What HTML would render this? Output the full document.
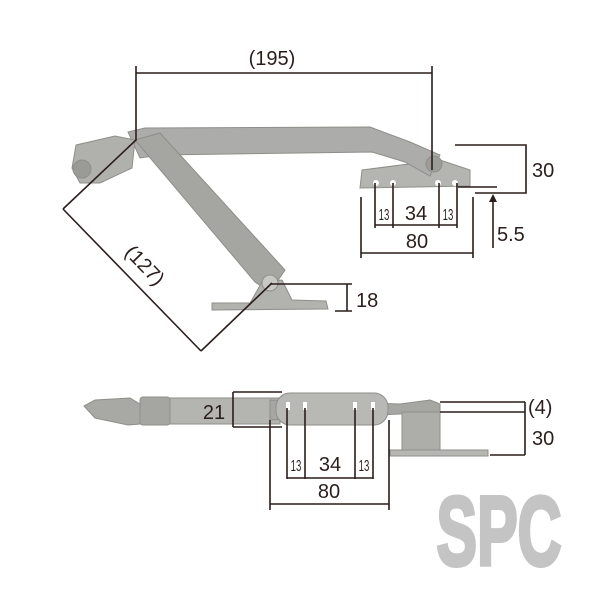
<!DOCTYPE html>
<html><head><meta charset="utf-8"><style>
html,body{margin:0;padding:0;background:#fff;}
svg{display:block;}
text{font-family:"Liberation Sans",sans-serif;fill:#2a1e1c;}
</style></head><body>
<svg width="600" height="600" viewBox="0 0 600 600" xmlns="http://www.w3.org/2000/svg">
<rect width="600" height="600" fill="#fff"/>
<g fill="#a9a9a5" stroke="#8e8e8a" stroke-width="1">
  <path d="M362,170 L440,160 L470,170 L470,186 L360,188 Z" fill="#b4b4b0"/>
  <path d="M128,132 L145,128 L370,127 L410,142 L440,155 L430,176 L405,162 L372,152 L160,155 L140,158 Z" fill="#acacaa"/>
  <path d="M135,140 L160,133 L285,270 L270,292 L255,282 Z" fill="#a5a5a2"/>
  <path d="M76,145 L115,136 L135,140 L132,168 L100,183 L80,183 L72,168 Z" fill="#b0b0ac"/>
  <circle cx="82" cy="169" r="9" fill="#9a9a96"/>
  <path d="M212,303 L250,303 L262,282 L282,280 L292,300 L326,301 L328,309 L212,310 Z" fill="#b2b2ae"/>
  <circle cx="270" cy="283" r="8" fill="#c8c8c4"/>
  <circle cx="434" cy="164" r="8" fill="#9c9c98"/>
</g>
<g fill="#fff"><circle cx="376" cy="183" r="3"/><circle cx="393" cy="183" r="3"/><circle cx="438" cy="183" r="3"/><circle cx="455" cy="183" r="3"/></g>
<g stroke="#8e8e8a" stroke-width="1">
  <path d="M84,406 L95,400 L130,398 L140,404 L140,424 L128,425 L95,418 Z" fill="#a8a8a4"/>
  <rect x="140" y="397" width="30" height="28" rx="3" fill="#a5a5a1"/>
  <rect x="170" y="398" width="110" height="26" fill="#b4b4b0"/>
  <path d="M270,400 L400,404 L430,400 L440,404 L440,412 L400,414 L270,420 Z" fill="#a6a6a2"/>
  <rect x="402" y="412" width="38" height="38" fill="#adadA9"/>
  <rect x="390" y="450" width="98" height="6" fill="#b6b6b2"/>
  <rect x="276" y="393" width="112" height="32" rx="14" fill="#b8b8b4"/>
</g>
<g fill="#fff"><rect x="286" y="402" width="4" height="8"/><rect x="303" y="402" width="4" height="8"/><rect x="353" y="402" width="4" height="8"/><rect x="371" y="402" width="4" height="8"/></g>
<g stroke="#2a1e1c" stroke-width="1.6" fill="none">
  <path d="M136,66 V140 L63,209"/>
  <path d="M432,66 V170"/>
  <path d="M136,73 H432"/>
  <path d="M63,209 L201,351"/>
  <path d="M201,351 L272,283"/>
  <path d="M270,284 H352 M335,311 H352 M347,284 V311"/>
  <path d="M455,145 H526 V193 H475"/>
  <path d="M458,187 H497 M493,197 V248"/>
  <path d="M375,183 V228 M393,183 V228 M439,183 V228 M457,183 V228 M375,225 H457"/>
  <path d="M361,197 V258 M473,197 V258 M361,253 H473"/>
  <path d="M233,392 H282 M233,427 H282 M233,392 V427"/>
  <path d="M440,402 H525 M440,412 H525 M525,402 V455 M490,455 H525"/>
  <path d="M287,408 V479 M305,408 V479 M355,408 V479 M373,408 V479 M287,478 H373"/>
  <path d="M270,420 V510 M389,420 V510 M270,504 H389"/>
</g>
<path d="M493,194 L489,202 L497,202 Z" fill="#2a1e1c"/>
<g font-size="20">
  <text x="272" y="65" text-anchor="middle">(195)</text>
  <text x="356" y="307">18</text>
  <text x="532" y="177">30</text>
  <text x="497" y="241">5.5</text>
  <text x="416" y="220" text-anchor="middle">34</text>
  <text x="417" y="248" text-anchor="middle">80</text>
  <text x="214" y="419" text-anchor="middle">21</text>
  <text x="528" y="414">(4)</text>
  <text x="532" y="445">30</text>
  <text x="330" y="471" text-anchor="middle">34</text>
  <text x="329" y="498" text-anchor="middle">80</text>
  <text transform="translate(140,270) rotate(46)" text-anchor="middle">(127)</text>
</g>
<g font-size="16">
  <text transform="translate(384,220) scale(0.6,1)" text-anchor="middle">13</text>
  <text transform="translate(448,220) scale(0.6,1)" text-anchor="middle">13</text>
  <text transform="translate(296,471) scale(0.6,1)" text-anchor="middle">13</text>
  <text transform="translate(364,471) scale(0.6,1)" text-anchor="middle">13</text>
</g>
<text transform="translate(499,565) scale(0.62,1)" text-anchor="middle" font-size="98" font-weight="bold" style="fill:#c4c4c4;stroke:#c4c4c4;stroke-width:4">SPC</text>
</svg>
</body></html>
